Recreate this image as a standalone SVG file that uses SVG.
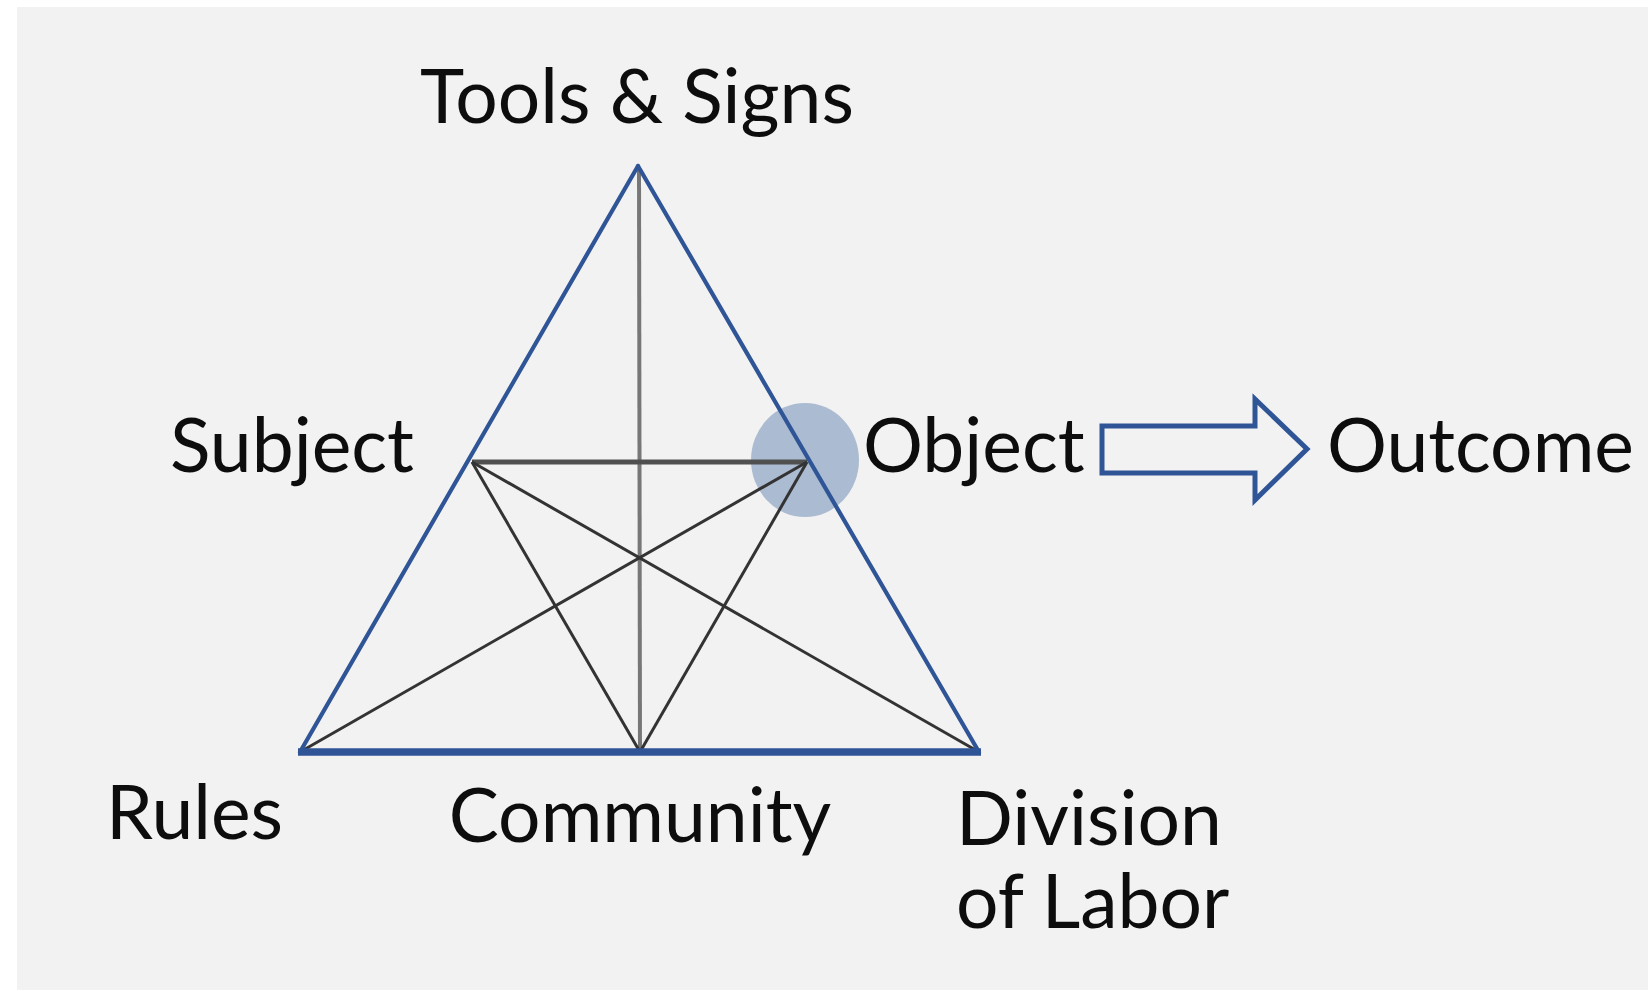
<svg xmlns="http://www.w3.org/2000/svg" width="1648" height="991" viewBox="0 0 1648 991">
  <style>
    .lbl { font-family: Lato, "Open Sans", "Liberation Sans", sans-serif; font-size: 75px; fill: #0d0d0d; }
    .side { stroke: #2f5597; stroke-width: 4.2; fill: none; stroke-linecap: round; }
    .base { stroke: #2f5597; stroke-width: 7.5; fill: none; }
    .link { stroke: #333333; stroke-width: 3; fill: none; }
    .axis { stroke: #777777; stroke-width: 4; fill: none; }
    .bar { stroke: #505050; stroke-width: 5; fill: none; }
  </style>
  <rect x="0" y="0" width="1648" height="991" fill="#ffffff"/>
  <rect x="17" y="7" width="1631" height="983" fill="#f2f2f2"/>

  <!-- highlight behind the object vertex -->
  <ellipse id="object-highlight" cx="805" cy="460" rx="54" ry="57" fill="#4a6fa5" fill-opacity="0.42"/>

  <g id="connectors">
    <line class="axis" x1="639" y1="168" x2="640" y2="752"/>
    <line class="bar" x1="472" y1="462" x2="807" y2="462"/>
    <line class="link" x1="472" y1="462" x2="640" y2="752"/>
    <line class="link" x1="472" y1="462" x2="979" y2="752"/>
    <line class="link" x1="807" y1="462" x2="300" y2="752"/>
    <line class="link" x1="807" y1="462" x2="640" y2="752"/>
    <line class="side" x1="300" y1="752" x2="638" y2="166"/>
    <line class="side" x1="638" y1="166" x2="979" y2="752"/>
    <line class="base" x1="298" y1="752" x2="981" y2="752"/>
    <!-- block arrow from Object to Outcome -->
    <path d="M1102,426 H1255 V399 L1307,449 L1255,500 V473 H1102 Z" fill="none" stroke="#2f5597" stroke-width="5" stroke-linejoin="miter"/>
  </g>

  <g id="tools-signs"><text class="lbl" x="637" y="123" text-anchor="middle">Tools &amp; Signs</text></g>
  <g id="subject"><text class="lbl" x="414" y="472" text-anchor="end">Subject</text></g>
  <g id="object"><text class="lbl" x="863" y="472">Object</text></g>
  <g id="outcome"><text class="lbl" x="1327" y="472">Outcome</text></g>
  <g id="rules"><text class="lbl" x="106" y="839">Rules</text></g>
  <g id="community"><text class="lbl" x="640" y="842" text-anchor="middle">Community</text></g>
  <g id="division-of-labor"><text class="lbl" x="956" y="845">Division</text><text class="lbl" x="956" y="928">of Labor</text></g>
</svg>
